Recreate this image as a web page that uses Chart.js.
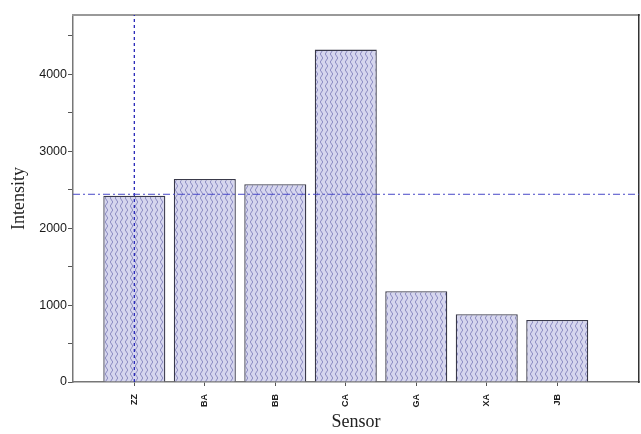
<!DOCTYPE html>
<html>
<head>
<meta charset="utf-8">
<script src="https://cdn.jsdelivr.net/npm/chart.js@4.4.0/dist/chart.umd.min.js"></script>
<style>
  html, body { margin: 0; padding: 0; background: #fff; }
  #wrap { width: 641px; height: 434px; }
</style>
</head>
<body>
<div id="wrap"><canvas id="grafik" width="641" height="434"></canvas></div>
<script>
// data
const sensorLabels = ["ZZ", "BA", "BB", "CA", "GA", "XA", "JB"];
const intensitas = [2420, 2640, 2570, 4320, 1180, 880, 805];
const yTicks = [0, 500, 1000, 1500, 2000, 2500, 3000, 3500, 4000, 4500];
const garisH = 2440;   // horizontal dash-dot reference
const garisV = 0;      // vertical dashed line at first sensor
const yMax = 4770;
const xMin = -0.87, xMax = 7.16;

// pola isian batang (wavy texture)
function buatPola() {
    let c = document.createElement('canvas');
    c.width = 5; c.height = 8;
    let g = c.getContext('2d');
    g.fillStyle = '#d6d6ee';
    g.fillRect(0, 0, 5, 8);
    g.strokeStyle = '#8c8cc2';
    g.lineWidth = 1;
    g.beginPath();
    g.moveTo(1.5, 0);
    g.quadraticCurveTo(4, 2, 1.5, 4);
    g.quadraticCurveTo(-1, 6, 1.5, 8);
    g.stroke();
    return g.createPattern(c, 'repeat');
}

const ctx = document.getElementById('grafik').getContext('2d');
const pola = buatPola();

new Chart(ctx, {
    type: 'bar',
    data: {
        datasets: [
            {
                type: 'line',
                data: [{x: xMin, y: garisH}, {x: xMax, y: garisH}],
                borderColor: '#4848c8', borderWidth: 1, borderDash: [7, 3, 2, 3],
                pointRadius: 0, fill: false, order: 1
            },
            {
                type: 'line',
                data: [{x: garisV, y: 0}, {x: garisV, y: yMax}],
                borderColor: '#2828b8', borderWidth: 1.3, borderDash: [3, 3],
                pointRadius: 0, fill: false, order: 1
            },
            {
                type: 'bar',
                data: intensitas.map((v, i) => ({x: i, y: v})),
                backgroundColor: pola,
                borderColor: '#3a3a4a', borderWidth: 1.3,
                categoryPercentage: 1, barPercentage: 0.88,
                order: 2
            }
        ]
    },
    options: {
        responsive: false, animation: false,
        layout: { padding: { top: 15, right: 2, left: 0, bottom: 0 } },
        plugins: { legend: { display: false }, tooltip: { enabled: false } },
        scales: {
            x: {
                type: 'linear', min: xMin, max: xMax, offset: false,
                afterBuildTicks: s => { s.ticks = sensorLabels.map((_, i) => ({value: i})); },
                afterFit: s => { s.height = 52; },
                ticks: {
                    callback: (v) => sensorLabels[v] || '',
                    minRotation: 90, maxRotation: 90, autoSkip: false,
                    font: { family: 'Liberation Sans', size: 9, weight: 'bold' }, color: '#222', padding: 8
                },
                grid: { offset: false, drawOnChartArea: false, drawTicks: true, tickLength: 4, color: '#555' },
                border: { display: true, color: '#777', width: 1.5 },
                title: {
                    display: true, text: 'Sensor', color: '#222',
                    font: { family: 'Liberation Serif', size: 18 }, padding: { top: 0, bottom: 1 }
                }
            },
            y: {
                min: 0, max: yMax,
                afterBuildTicks: s => { s.ticks = yTicks.map(v => ({value: v})); },
                afterFit: s => { s.width = 73; },
                ticks: {
                    autoSkip: false,
                    callback: v => (v % 1000 === 0 ? String(v) : ''),
                    font: { family: 'Liberation Sans', size: 12.5 }, color: '#1a1a1a', padding: 1
                },
                grid: { drawOnChartArea: false, drawTicks: true, tickLength: 5, color: '#555' },
                border: { display: true, color: '#777', width: 1.5 },
                title: {
                    display: true, text: 'Intensity', color: '#222',
                    font: { family: 'Liberation Serif', size: 18 }, padding: { top: 8, bottom: 4 }
                }
            },
            xAtas: {
                type: 'linear', position: 'top', min: 0, max: 1,
                afterFit: s => { s.height = 0; },
                ticks: { display: false }, grid: { display: false, drawTicks: false },
                border: { display: true, color: '#999', width: 2 }
            },
            yKanan: {
                type: 'linear', position: 'right', min: 0, max: 1,
                afterFit: s => { s.width = 0; },
                ticks: { display: false }, grid: { display: false, drawTicks: false },
                border: { display: true, color: '#333', width: 1.5 }
            }
        }
    }
});
</script>
</body>
</html>
